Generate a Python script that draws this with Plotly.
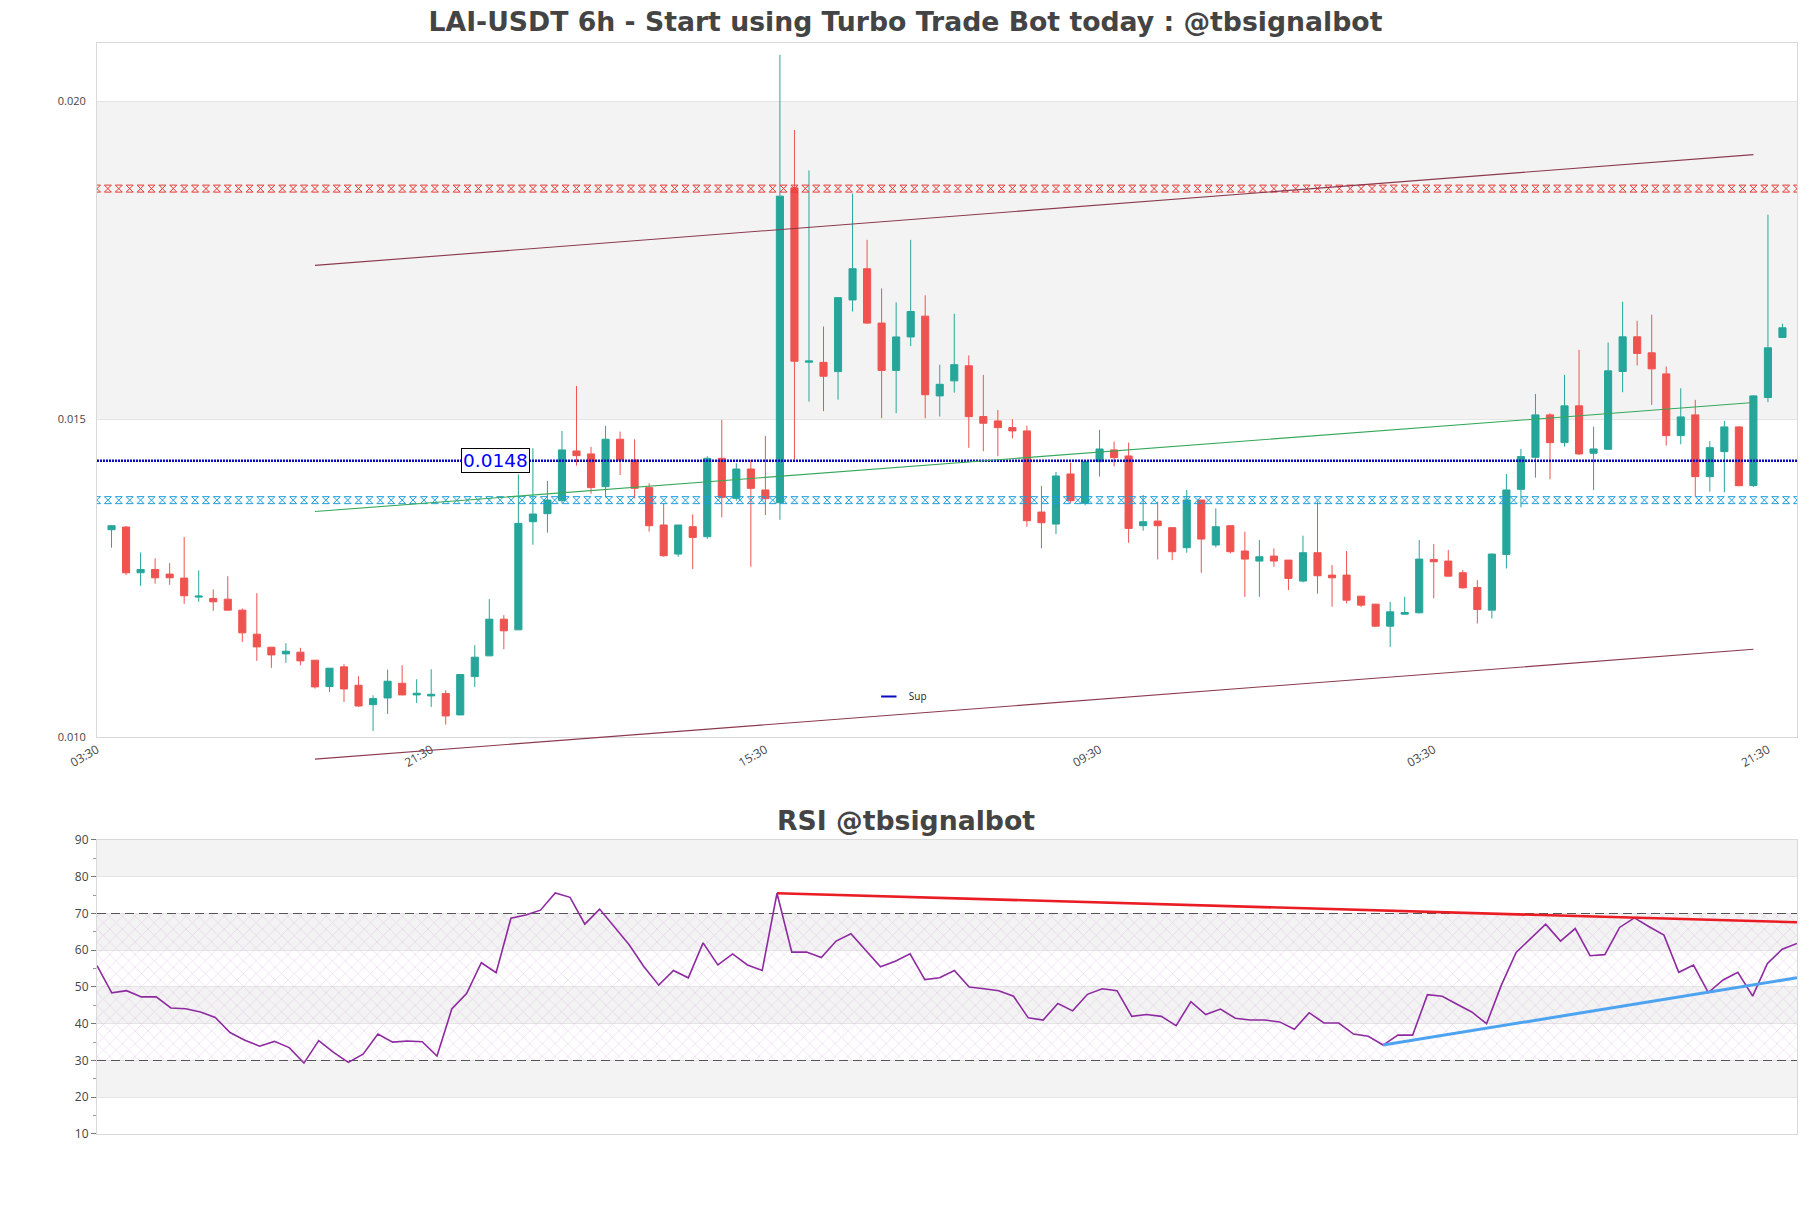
import numpy as np
import pandas as pd
import plotly.graph_objects as go

# ------------------------------------------------------------------ data
start_time = "2024-05-01 09:30"

candle_open = [0.013265, 0.013307, 0.012588, 0.012640, 0.012567, 0.012504, 0.012205, 0.012184, 0.012173, 0.012000,
               0.011622, 0.011417, 0.011312, 0.011339, 0.011213, 0.010798, 0.011108, 0.010819, 0.010514, 0.010619,
               0.010850, 0.010667, 0.010651, 0.010688, 0.010352, 0.010955, 0.011281, 0.011858, 0.011690, 0.013391,
               0.013517, 0.013722, 0.014504, 0.014457, 0.013942, 0.014688, 0.014362, 0.013927, 0.013339, 0.012882,
               0.013312, 0.013155, 0.014388, 0.013759, 0.014220, 0.013890, 0.013690, 0.018642, 0.015900, 0.015897,
               0.015752, 0.016879, 0.017370, 0.016515, 0.015770, 0.016297, 0.016624, 0.015370, 0.015606, 0.015843,
               0.015045, 0.014976, 0.014871, 0.014819, 0.013543, 0.013354, 0.014142, 0.013680, 0.014336, 0.014520,
               0.014425, 0.013328, 0.013401, 0.013297, 0.012982, 0.013732, 0.013024, 0.013328, 0.012930, 0.012772,
               0.012850, 0.012787, 0.012457, 0.012903, 0.012551, 0.012551, 0.012220, 0.012094, 0.011748, 0.011937,
               0.011958, 0.012798, 0.012772, 0.012588, 0.012357, 0.012000, 0.012877, 0.013900, 0.014404, 0.015071,
               0.014635, 0.015213, 0.014467, 0.014530, 0.015753, 0.016299, 0.016047, 0.015716, 0.014745, 0.015071,
               0.014100, 0.014493, 0.014882, 0.013958, 0.015344, 0.016289]
candle_high = [0.013340, 0.013323, 0.012908, 0.012814, 0.012740, 0.013150, 0.012625, 0.012325, 0.012535, 0.012026,
               0.012268, 0.011417, 0.011480, 0.011407, 0.011213, 0.011087, 0.011150, 0.010961, 0.010661, 0.011065,
               0.011134, 0.010913, 0.011071, 0.010740, 0.010990, 0.011449, 0.012173, 0.011921, 0.014136, 0.014546,
               0.014031, 0.014819, 0.015527, 0.014567, 0.014898, 0.014808, 0.014688, 0.013995, 0.013680, 0.013339,
               0.013507, 0.014420, 0.014992, 0.014310, 0.014362, 0.014740, 0.020733, 0.019551, 0.018915, 0.016461,
               0.016920, 0.018551, 0.017824, 0.017061, 0.016842, 0.017824, 0.016952, 0.015861, 0.016661, 0.016006,
               0.015700, 0.015150, 0.015003, 0.014900, 0.013953, 0.014173, 0.014320, 0.014360, 0.014835, 0.014651,
               0.014635, 0.013811, 0.013706, 0.013300, 0.013890, 0.013732, 0.013601, 0.013330, 0.013234, 0.013102,
               0.012971, 0.012790, 0.013171, 0.013706, 0.012709, 0.012930, 0.012220, 0.012100, 0.012131, 0.012210,
               0.013102, 0.013040, 0.012945, 0.012630, 0.012472, 0.012890, 0.014142, 0.014535, 0.015401, 0.015097,
               0.015701, 0.016094, 0.014887, 0.016210, 0.016850, 0.016551, 0.016646, 0.015832, 0.015490, 0.015307,
               0.014661, 0.014976, 0.014890, 0.015380, 0.018220, 0.016504]
candle_low = [0.012982, 0.012551, 0.012383, 0.012415, 0.012399, 0.012100, 0.012131, 0.011989, 0.011995, 0.011501,
              0.011202, 0.011092, 0.011171, 0.011134, 0.010766, 0.010714, 0.010556, 0.010478, 0.010100, 0.010367,
              0.010660, 0.010541, 0.010478, 0.010200, 0.010350, 0.010793, 0.011281, 0.011386, 0.011690, 0.013029,
              0.013218, 0.013680, 0.014273, 0.013832, 0.013774, 0.014126, 0.013758, 0.013234, 0.012840, 0.012840,
              0.012646, 0.013120, 0.013459, 0.013720, 0.012682, 0.013496, 0.013420, 0.014369, 0.015280, 0.015130,
              0.015310, 0.016697, 0.016500, 0.015020, 0.015097, 0.016152, 0.015018, 0.015045, 0.015420, 0.014552,
              0.014500, 0.014420, 0.014700, 0.013312, 0.012971, 0.013197, 0.013690, 0.013650, 0.014100, 0.014260,
              0.013060, 0.013249, 0.012798, 0.012787, 0.012903, 0.012588, 0.012987, 0.012890, 0.012210, 0.012210,
              0.012682, 0.012315, 0.012436, 0.012262, 0.012053, 0.012105, 0.012050, 0.011740, 0.011422, 0.011930,
              0.011950, 0.012184, 0.012530, 0.012340, 0.011790, 0.011869, 0.012656, 0.013617, 0.014084, 0.014058,
              0.014572, 0.014441, 0.013890, 0.014520, 0.015428, 0.015848, 0.015228, 0.014588, 0.014609, 0.013785,
              0.013864, 0.013853, 0.013950, 0.013940, 0.015270, 0.016280]
candle_close = [0.013328, 0.012588, 0.012640, 0.012509, 0.012509, 0.012226, 0.012221, 0.012131, 0.012000, 0.011643,
                0.011422, 0.011296, 0.011354, 0.011202, 0.010793, 0.011087, 0.010761, 0.010493, 0.010609, 0.010882,
                0.010667, 0.010693, 0.010677, 0.010336, 0.010987, 0.011260, 0.011858, 0.011675, 0.013365, 0.013512,
                0.013732, 0.014520, 0.014430, 0.013927, 0.014688, 0.014362, 0.013916, 0.013328, 0.012856, 0.013339,
                0.013144, 0.014388, 0.013774, 0.014220, 0.013916, 0.013753, 0.018511, 0.015915, 0.015920, 0.015679,
                0.016915, 0.017370, 0.016515, 0.015770, 0.016297, 0.016697, 0.015388, 0.015552, 0.015861, 0.015043,
                0.014940, 0.014871, 0.014819, 0.013407, 0.013375, 0.014110, 0.013722, 0.014336, 0.014535, 0.014399,
                0.013286, 0.013391, 0.013328, 0.012919, 0.013732, 0.013118, 0.013312, 0.012919, 0.012803, 0.012840,
                0.012772, 0.012499, 0.012903, 0.012541, 0.012509, 0.012157, 0.012079, 0.011748, 0.011974, 0.011963,
                0.012803, 0.012761, 0.012535, 0.012351, 0.012010, 0.012882, 0.013890, 0.014415, 0.015071, 0.014635,
                0.015213, 0.014457, 0.014535, 0.015764, 0.016299, 0.016037, 0.015795, 0.014745, 0.015039, 0.014100,
                0.014556, 0.014882, 0.013958, 0.015370, 0.016126, 0.016441]

rsi_values = [55.8, 48.4, 49.0, 47.3, 47.3, 44.3, 44.1, 43.2, 41.7, 37.6,
              35.5, 33.9, 35.2, 33.5, 29.3, 35.4, 32.2, 29.5, 31.7, 37.2,
              35.0, 35.3, 35.1, 31.2, 44.0, 48.2, 56.6, 53.9, 68.7, 69.6,
              70.9, 75.6, 74.4, 67.1, 71.2, 66.5, 61.5, 55.5, 50.5, 54.5,
              52.5, 62.0, 56.0, 59.0, 56.0, 54.5, 75.5, 59.5, 59.5, 58.0,
              62.5, 64.5, 60.0, 55.5, 57.0, 59.0, 52.0, 52.5, 54.5, 50.0,
              49.5, 49.0, 47.5, 41.6, 41.0, 45.5, 43.5, 48.0, 49.5, 49.0,
              42.0, 42.5, 42.0, 39.5, 46.0, 42.5, 44.0, 41.5, 41.0, 41.0,
              40.5, 38.5, 43.0, 40.2, 40.2, 37.2, 36.6, 34.2, 36.9, 36.9,
              47.9, 47.5, 45.3, 43.2, 40.0, 50.5, 59.4, 63.2, 67.1, 62.5,
              65.9, 58.5, 58.8, 66.2, 68.8, 66.4, 64.1, 54.0, 55.95, 48.5,
              51.9, 54.0, 47.5, 56.4, 60.3, 61.85]

x_tick_labels = ["03:30", "21:30", "15:30", "09:30", "03:30", "21:30"]
price_ticks = [0.010, 0.015, 0.020]
price_bands = [(0.015, 0.020)]
rsi_bands = [(20, 30), (40, 50), (60, 70), (80, 90)]

resistance_level = 0.01863
support_zone_level = 0.01373
sup_level = 0.01435
sup_label = "0.0148"

channel_idx = [14, 113]
channel_upper = [0.017422, 0.019165]
channel_mid = [0.013551, 0.015265]
channel_lower = [0.009657, 0.011384]

rsi_levels = [30, 70]
rsi_res_idx = [46, 115]
rsi_res_val = [75.5, 67.6]
rsi_sup_idx = [87, 115]
rsi_sup_val = [34.2, 52.5]

# ------------------------------------------------------------------ styling
W, H = 1811, 1208
ML, MR, MT, MB = 97, 14, 43, 74
GREEN, RED = "#26a69a", "#ef5350"
GRID, BORDER, BAND = "#e4e4e4", "#d9d9d9", "#f3f3f3"
TXT = "#444444"
FONT = "DejaVu Sans"
TICKFONT = "Open Sans"

main_dom = [0.3636, 1.0]
rsi_dom = [0.0, 0.2695]
ext_dom = [0.30, 1.0]
main_range = [0.010, 0.02092]
span_per_dom = (main_range[1] - main_range[0]) / (main_dom[1] - main_dom[0])
ext_range = [main_range[1] - span_per_dom * (ext_dom[1] - ext_dom[0]), main_range[1]]

step = pd.Timedelta(hours=6)
times = pd.date_range(start_time, periods=len(candle_open), freq="6h")
x_lo, x_hi = times[0] - step, times[-1] + step
tick_every = 23
tickvals = [x_lo + k * tick_every * step for k in range(len(x_tick_labels))]

fig = go.Figure()

# candles
fig.add_trace(go.Candlestick(
    x=times, open=candle_open, high=candle_high, low=candle_low, close=candle_close,
    increasing=dict(line=dict(color=GREEN, width=1), fillcolor=GREEN),
    decreasing=dict(line=dict(color=RED, width=1), fillcolor=RED),
    whiskerwidth=0, showlegend=False, xaxis="x", yaxis="y"))

# hatched level lines
hatch_x = pd.date_range(x_lo, x_hi, freq="270min")
for lvl, col in [(resistance_level, "#e53935"), (support_zone_level, "#1e9fd8")]:
    fig.add_trace(go.Scatter(
        x=hatch_x, y=[lvl] * len(hatch_x), mode="markers",
        marker=dict(symbol="hourglass-open", size=7, color=col, line=dict(width=1, color=col)),
        showlegend=False, hoverinfo="skip", xaxis="x", yaxis="y"))

# Sup line
fig.add_trace(go.Scatter(
    x=[x_lo, x_hi], y=[sup_level, sup_level], mode="lines",
    line=dict(color="#0a0ac0", width=2.5, dash="2px,1px"),
    showlegend=False, hoverinfo="skip", xaxis="x", yaxis="y"))
fig.add_trace(go.Scatter(
    x=[x_lo - step], y=[sup_level], mode="markers", name="Sup",
    marker=dict(symbol="line-ew-open", size=11, color="#0a0ac0", line=dict(width=2, color="#0a0ac0")),
    showlegend=True, hoverinfo="skip", xaxis="x", yaxis="y"))

# channel lines (own axis pair so the lower line may run below the frame)
cx = [times[i] for i in channel_idx]
for ys, col in [(channel_upper, "#8b3a4e"), (channel_lower, "#8b3a4e"), (channel_mid, "#35a85a")]:
    fig.add_trace(go.Scatter(
        x=cx, y=ys, mode="lines", line=dict(color=col, width=1.1),
        showlegend=False, hoverinfo="skip", xaxis="x3", yaxis="y3"))

# RSI
fig.add_trace(go.Scatter(
    x=[times[0], times[-1]], y=[rsi_levels[1]] * 2, mode="lines",
    line=dict(color="#555555", width=1.2, dash="9px,5px"),
    showlegend=False, hoverinfo="skip", xaxis="x2", yaxis="y2"))
fig.add_trace(go.Scatter(
    x=[times[0], times[-1]], y=[rsi_levels[0]] * 2, mode="lines",
    line=dict(color="#555555", width=1.2, dash="9px,5px"),
    fill="tonexty", fillcolor="rgba(0,0,0,0)",
    fillpattern=dict(shape="x", fgcolor="rgba(212,165,222,0.9)", bgcolor="rgba(0,0,0,0)",
                     size=9, solidity=0.15),
    showlegend=False, hoverinfo="skip", xaxis="x2", yaxis="y2"))
fig.add_trace(go.Scatter(
    x=times, y=rsi_values, mode="lines", line=dict(color="#8e2aa0", width=1.6),
    showlegend=False, hoverinfo="skip", xaxis="x2", yaxis="y2"))
fig.add_trace(go.Scatter(
    x=[times[i] for i in rsi_res_idx], y=rsi_res_val, mode="lines",
    line=dict(color="#ea1c24", width=2.6),
    showlegend=False, hoverinfo="skip", xaxis="x2", yaxis="y2"))
fig.add_trace(go.Scatter(
    x=[times[i] for i in rsi_sup_idx], y=rsi_sup_val, mode="lines",
    line=dict(color="#4da3f0", width=3),
    showlegend=False, hoverinfo="skip", xaxis="x2", yaxis="y2"))

shapes = []
for lo, hi in price_bands:
    shapes.append(dict(type="rect", xref="x domain", yref="y", x0=0, x1=1, y0=lo, y1=hi,
                       fillcolor=BAND, line=dict(width=0), layer="below"))
for lo, hi in rsi_bands:
    shapes.append(dict(type="rect", xref="x2 domain", yref="y2", x0=0, x1=1, y0=lo, y1=hi,
                       fillcolor=BAND, line=dict(width=0), layer="below"))

axis_common = dict(showline=True, mirror=True, linecolor=BORDER, linewidth=1, zeroline=False)

fig.update_layout(
    width=W, height=H, autosize=False,
    margin=dict(l=ML, r=MR, t=MT, b=MB),
    paper_bgcolor="white", plot_bgcolor="rgba(0,0,0,0)",
    font=dict(family=FONT, color=TXT, size=10),
    title=dict(text="LAI-USDT 6h - Start using Turbo Trade Bot today : @tbsignalbot",
               x=0.5, xref="container", xanchor="center",
               y=1 - 22 / H, yref="container", yanchor="middle",
               font=dict(family=FONT, size=26.7, color=TXT, weight="bold")),
    showlegend=True,
    legend=dict(x=0.454, y=0.401, xanchor="left", yanchor="middle",
                bgcolor="rgba(0,0,0,0)", font=dict(family=TICKFONT, size=10, color="#222")),
    shapes=shapes,
    xaxis=dict(domain=[0, 1], anchor="y", type="date", range=[x_lo, x_hi],
               tickmode="array", tickvals=tickvals, ticktext=x_tick_labels, tickangle=-30,
               tickfont=dict(family=TICKFONT, size=12, color=TXT), showgrid=False, ticks="",
               rangeslider=dict(visible=False), **axis_common),
    yaxis=dict(domain=main_dom, anchor="x", range=main_range,
               tickmode="array", tickvals=price_ticks, tickformat=".3f",
               tickfont=dict(family=TICKFONT, size=11, color=TXT), showgrid=True, gridcolor=GRID,
               gridwidth=1, ticks="", ticklabelstandoff=8, **axis_common),
    xaxis2=dict(domain=[0, 1], anchor="y2", type="date", range=[times[0], times[-1]],
                showticklabels=False, showgrid=False, ticks="", **axis_common),
    yaxis2=dict(domain=rsi_dom, anchor="x2", range=[10, 90], tick0=10, dtick=10,
                tickfont=dict(family=TICKFONT, size=12, color=TXT), showgrid=True, gridcolor=GRID,
                gridwidth=1, ticks="outside", ticklen=5, tickcolor="#777",
                minor=dict(dtick=5, ticks="outside", ticklen=3, tickcolor="#999", showgrid=False),
                **axis_common),
    xaxis3=dict(domain=[0, 1], anchor="y3", type="date", range=[x_lo, x_hi], visible=False),
    yaxis3=dict(domain=ext_dom, anchor="x3", range=ext_range, visible=False),
    annotations=[
        dict(text=sup_label, xref="paper", yref="y", x=(495 - ML) / (W - ML - MR), y=sup_level,
             xanchor="center", yanchor="middle",
             showarrow=False, font=dict(family=FONT, size=18.5, color="#0000ff"),
             bgcolor="white", bordercolor="black", borderwidth=1, borderpad=1),
        dict(text="RSI @tbsignalbot", xref="paper", yref="paper",
             x=(W / 2 - ML) / (W - ML - MR), y=(H - MB - 820) / (H - MT - MB),
             xanchor="center", yanchor="middle", showarrow=False,
             font=dict(family=FONT, size=26.7, color=TXT, weight="bold")),
    ],
)

fig.write_html("out.html")
